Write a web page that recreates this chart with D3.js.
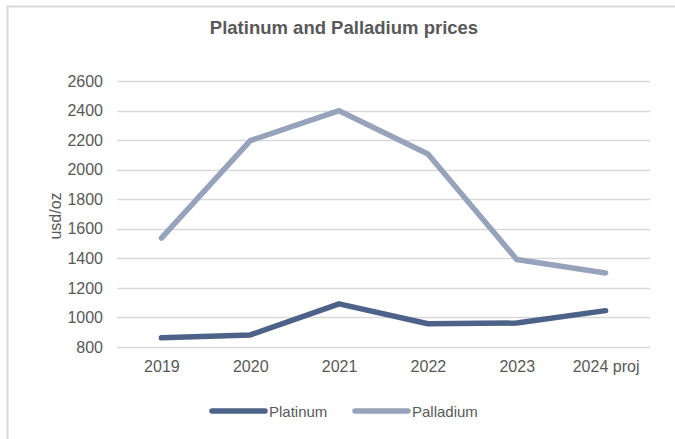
<!DOCTYPE html>
<html><head><meta charset="utf-8">
<script src="https://cdn.jsdelivr.net/npm/d3@7"></script>
<style>body{margin:0;background:#fff;font-family:"Liberation Sans",Arial,sans-serif;}</style>
</head><body><svg id="c" width="675" height="439"></svg>
<script>
const categories = ["2019","2020","2021","2022","2023","2024 proj"];
const platinum = [862, 882, 1092, 957, 962, 1046];
const palladium = [1537, 2196, 2399, 2106, 1392, 1301];
const yTicks = [800,1000,1200,1400,1600,1800,2000,2200,2400,2600];
const seriesNames = ["Platinum","Palladium"];
const colors = ["#4d6288","#97a3ba"];

const svg = d3.select("#c");
const FF = "'Liberation Sans',Arial,sans-serif";
// frame
svg.append("path").attr("d","M7.5,439 L7.5,6.5 L675,6.5").attr("fill","none").attr("stroke","#d9d9d9").attr("stroke-width",2);

const x = d3.scalePoint().domain(categories).range([117,650]).padding(0.5);
const y = d3.scaleLinear().domain([800,2600]).range([347,81]);

// grid
svg.append("g").selectAll("line").data(yTicks).join("line")
  .attr("x1",117).attr("x2",650).attr("y1",d=>Math.round(y(d))+0.5).attr("y2",d=>Math.round(y(d))+0.5)
  .attr("stroke","#d9d9d9").attr("stroke-width",1.5);

const yAxis = svg.append("g").attr("transform","translate(117,0)")
  .call(d3.axisLeft(y).tickValues(yTicks).tickSize(0).tickPadding(14).tickFormat(d3.format("d")));
yAxis.select(".domain").remove();
yAxis.selectAll("text").attr("fill","#595959").style("font-size","16px").style("font-family",FF);

const xAxis = svg.append("g").attr("transform","translate(0,347)")
  .call(d3.axisBottom(x).tickSize(0).tickPadding(14));
xAxis.select(".domain").remove();
xAxis.selectAll("text").attr("fill","#595959").style("font-size","16px").style("font-family",FF);

svg.append("text").attr("transform","translate(61,216) rotate(-90)").attr("text-anchor","middle")
  .attr("fill","#595959").style("font-size","16px").style("font-family",FF).text("usd/oz");

svg.append("text").attr("x",344).attr("y",34).attr("text-anchor","middle")
  .attr("fill","#595959").style("font-size","18.5px").style("font-weight","bold").style("font-family",FF)
  .text("Platinum and Palladium prices");

const line = d3.line().x((d,i)=>x(categories[i])).y(d=>y(d));
[platinum,palladium].forEach((s,k)=>{
  svg.append("path").datum(s).attr("d",line).attr("fill","none")
    .attr("stroke",colors[k]).attr("stroke-width",5.5).attr("stroke-linecap","round").attr("stroke-linejoin","round");
});

// legend
const legX = [212,355];
seriesNames.forEach((n,k)=>{
  svg.append("line").attr("x1",legX[k]).attr("x2",legX[k]+53).attr("y1",411).attr("y2",411)
    .attr("stroke",colors[k]).attr("stroke-width",5.5).attr("stroke-linecap","round");
  svg.append("text").attr("x",legX[k]+57).attr("y",417).attr("fill","#595959")
    .style("font-size","15px").style("font-family",FF).text(n);
});
</script></body></html>
